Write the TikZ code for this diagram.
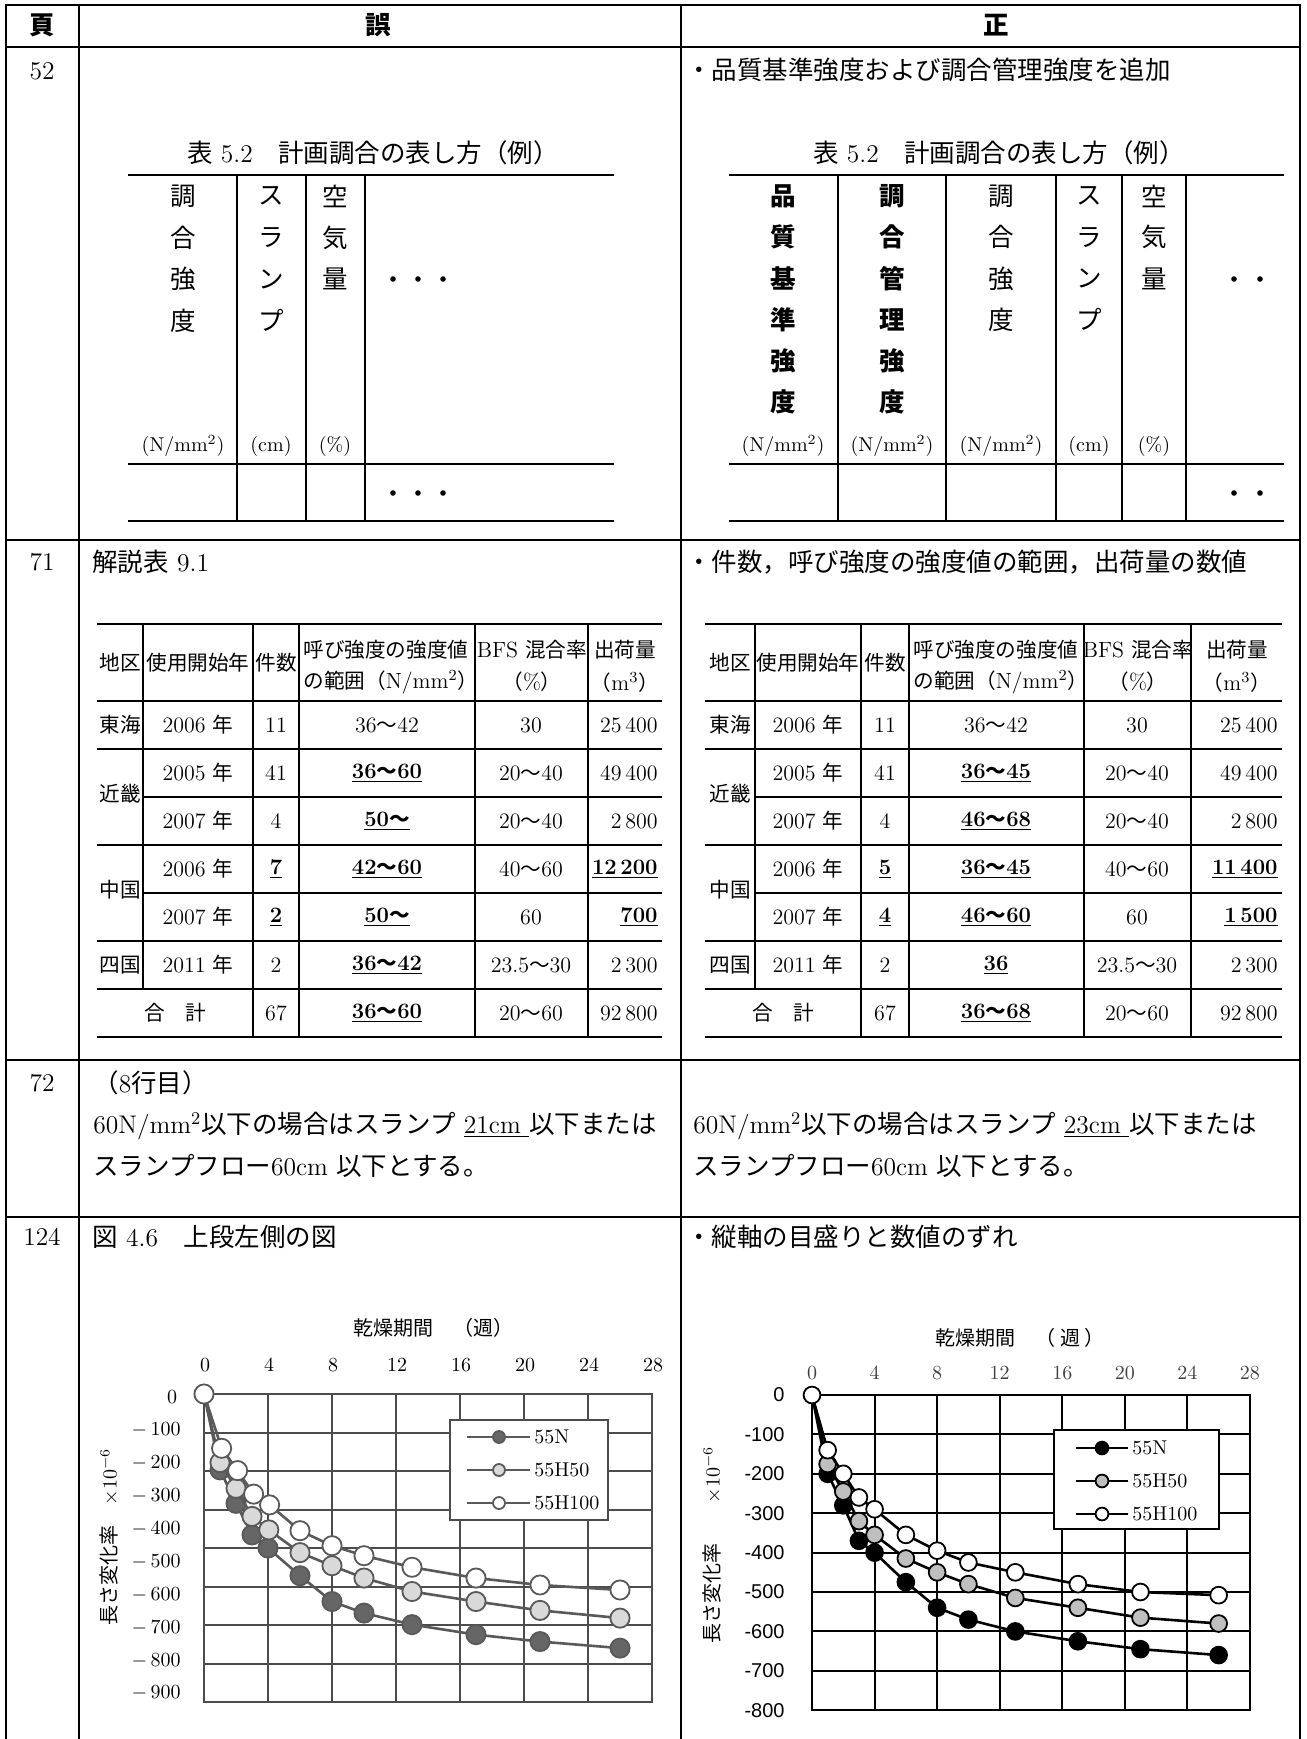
\documentclass[tikz,border=0pt]{standalone}
\usepackage{fontspec}
\newfontfamily\jp{Noto Sans CJK JP}
\newfontfamily\asans{Liberation Sans}
\usetikzlibrary{calc}
\newcommand\J[1]{{\jp #1}}
\newcommand\Jt[1]{{\jp\fontsize{10.3pt}{12pt}\selectfont #1}}
\newcommand\bu[1]{\underline{\bfseries #1}}
\newcommand\bodyf{\fontsize{12.75pt}{15pt}\selectfont}
\newcommand\tblf{\fontsize{11pt}{13pt}\selectfont}
\newcommand\smf{\fontsize{10pt}{12pt}\selectfont}
\definecolor{lgrid}{gray}{0.30}
\definecolor{lser}{gray}{0.35}
\definecolor{lfillN}{gray}{0.40}
\definecolor{lfillH}{gray}{0.85}
\definecolor{rfillH}{gray}{0.75}
\definecolor{xlab}{gray}{0.25}
\begin{document}
\begin{tikzpicture}[x=0.5pt,y=-0.5pt,line join=miter,
  frame/.style={line width=1.2pt},
  tl/.style={line width=1.1pt},
  txt/.style={inner sep=0pt,font=\bodyf},
  tt/.style={inner sep=0pt,font=\tblf},
  ut/.style={inner sep=0pt,font=\smf},
  lgridl/.style={draw=lgrid,line width=1pt},
  lserl/.style={draw=lser,line width=1.3pt},
  lmk/.style={draw=lser,line width=0.9pt},
  rgridl/.style={draw=black,line width=1pt},
  rserl/.style={draw=black,line width=1.3pt},
  rmk/.style={draw=black,line width=0.9pt}]
\useasboundingbox (0,0) rectangle (1306,1739);
% ---------------- frame
\draw[frame] (6,1739) -- (6,5) -- (1300,5) -- (1300,1739);
\draw[frame] (79,5) -- (79,1739);
\draw[frame] (681,5) -- (681,1739);
\foreach \yy in {47,540,1060,1217} \draw[frame] (6,\yy) -- (1300,\yy);
% header
\node[txt,font=\bodyf\jp\bfseries] (hpage) at (42,25) {頁};
\node[txt,font=\bodyf\jp\bfseries] (hwrong) at (378,25) {誤};
\node[txt,font=\bodyf\jp\bfseries] (hright) at (996,25) {正};
% page numbers
\node[txt] (p52) at (42,71) {52};
\node[txt] (p71) at (42,562) {71};
\node[txt] (p72) at (42,1083) {72};
\node[txt] (p124) at (42,1237) {124};
% ---------------- row 52
\node[txt,anchor=west] (t52r) at (686,70) {\J{・品質基準強度および調合管理強度を追加}};
\node[txt] (cap52l) at (373,153) {\J{表} 5.2\J{　計画調合の表し方（例）}};
\node[txt] (cap52r) at (999,153) {\J{表} 5.2\J{　計画調合の表し方（例）}};
% left table 52
\foreach \yy in {175,464,521} \draw[tl] (128,\yy) -- (614,\yy);
\foreach \xx in {237,306,365} \draw[tl] (\xx,175) -- (\xx,521);
\foreach \c [count=\i] in {調,合,強,度} \node[txt] (la\i) at (183,{196+41.5*(\i-1)}) {\J{\c}};
\foreach \c [count=\i] in {ス,ラ,ン,プ} \node[txt] (lb\i) at (271,{196+41.5*(\i-1)}) {\J{\c}};
\foreach \c [count=\i] in {空,気,量} \node[txt] (lc\i) at (335,{196+41.5*(\i-1)}) {\J{\c}};
\node[ut] (lu1) at (183,446) {(N/mm\textsuperscript{2})};
\node[ut] (lu2) at (271,446) {(cm)};
\node[ut] (lu3) at (335,446) {(\%)};
\foreach \xx in {393,418,443} {\fill (\xx,279) circle (1.4pt); \fill (\xx,493) circle (1.4pt);}
% right table 52
\foreach \yy in {175,464,521} \draw[tl] (729,\yy) -- (1284,\yy);
\foreach \xx in {838,946,1056,1122,1186} \draw[tl] (\xx,175) -- (\xx,521);
\foreach \c [count=\i] in {品,質,基,準,強,度} \node[txt,font=\bodyf\jp\bfseries] (ra\i) at (783,{196+41.2*(\i-1)}) {\c};
\foreach \c [count=\i] in {調,合,管,理,強,度} \node[txt,font=\bodyf\jp\bfseries] (rb\i) at (892,{196+41.2*(\i-1)}) {\c};
\foreach \c [count=\i] in {調,合,強,度} \node[txt] (rc\i) at (1001,{196+41.2*(\i-1)}) {\J{\c}};
\foreach \c [count=\i] in {ス,ラ,ン,プ} \node[txt] (rd\i) at (1089,{196+41.2*(\i-1)}) {\J{\c}};
\foreach \c [count=\i] in {空,気,量} \node[txt] (re\i) at (1154,{196+41.2*(\i-1)}) {\J{\c}};
\node[ut] (ru1) at (783,446) {(N/mm\textsuperscript{2})};
\node[ut] (ru2) at (892,446) {(N/mm\textsuperscript{2})};
\node[ut] (ru3) at (1001,446) {(N/mm\textsuperscript{2})};
\node[ut] (ru4) at (1089,446) {(cm)};
\node[ut] (ru5) at (1154,446) {(\%)};
\foreach \xx in {1234,1260} {\fill (\xx,279) circle (1.4pt); \fill (\xx,493) circle (1.4pt);}
% ---------------- row 71
\node[txt,anchor=west] (t71l) at (92,562) {\J{解説表} 9.1};
\node[txt,anchor=west] (t71r) at (686,562) {\J{・件数，呼び強度の強度値の範囲，出荷量の数値}};
% left table 71
\foreach \yy in {624,701,749,845,941,989,1037} \draw[tl] (97,\yy) -- (662,\yy);
\foreach \yy in {797,893} \draw[tl] (143,\yy) -- (662,\yy);
\draw[tl] (143,624) -- (143,989);
\foreach \xx in {253,299,475,588} \draw[tl] (\xx,624) -- (\xx,1037);
\node[tt] (lh0) at (120,663) {\Jt{地区}};
\node[tt] (lh1) at (198,663) {\Jt{使用開始年}};
\node[tt] (lh2) at (276,663) {\Jt{件数}};
\node[tt,anchor=west] (lh3a) at (303,650) {\Jt{呼び強度の強度値}};
\node[tt,anchor=west] (lh3b) at (303,682) {\Jt{の範囲（}N/mm\textsuperscript{2}\Jt{）}};
\node[tt] (lh4a) at (532,650) {BFS \Jt{混合率}};
\node[tt] (lh4b) at (532,682) {\Jt{（}\%\Jt{）}};
\node[tt] (lh5a) at (625,650) {\Jt{出荷量}};
\node[tt] (lh5b) at (625,682) {\Jt{（}m\textsuperscript{3}\Jt{）}};
\node[tt] (la0) at (120,725) {\Jt{東海}};
\node[tt] (lk0) at (120,794) {\Jt{近畿}};
\node[tt] (lc0) at (120,890) {\Jt{中国}};
\node[tt] (ls0) at (120,965) {\Jt{四国}};
\node[tt] (lt0) at (175,1013) {\Jt{合　計}};
\foreach \t [count=\i] in {2006,2005,2007,2006,2007,2011}
  \node[tt] (ly\i) at (198,{677+48*\i}) {\t\ \Jt{年}};
\node[tt] (ln1) at (276,725) {11};
\node[tt] (ln2) at (276,773) {41};
\node[tt] (ln3) at (276,821) {4};
\node[tt] (ln4) at (276,869) {\bu{7}};
\node[tt] (ln5) at (276,917) {\bu{2}};
\node[tt] (ln6) at (276,965) {2};
\node[tt] (ln7) at (276,1013) {67};
\node[tt] (lr1) at (387,725) {36\Jt{～}42};
\node[tt] (lr2) at (387,773) {\bu{36\Jt{～}60}};
\node[tt] (lr3) at (387,821) {\bu{50\Jt{～}}};
\node[tt] (lr4) at (387,869) {\bu{42\Jt{～}60}};
\node[tt] (lr5) at (387,917) {\bu{50\Jt{～}}};
\node[tt] (lr6) at (387,965) {\bu{36\Jt{～}42}};
\node[tt] (lr7) at (387,1013) {\bu{36\Jt{～}60}};
\node[tt] (lb1) at (531,725) {30};
\node[tt] (lb2) at (531,773) {20\Jt{～}40};
\node[tt] (lb3) at (531,821) {20\Jt{～}40};
\node[tt] (lb4) at (531,869) {40\Jt{～}60};
\node[tt] (lb5) at (531,917) {60};
\node[tt] (lb6) at (531,965) {23.5\Jt{～}30};
\node[tt] (lb7) at (531,1013) {20\Jt{～}60};
\node[tt,anchor=east] (lq1) at (658,725) {25\,400};
\node[tt,anchor=east] (lq2) at (658,773) {49\,400};
\node[tt,anchor=east] (lq3) at (658,821) {2\,800};
\node[tt,anchor=east] (lq4) at (658,869) {\bu{12\,200}};
\node[tt,anchor=east] (lq5) at (658,917) {\bu{700}};
\node[tt,anchor=east] (lq6) at (658,965) {2\,300};
\node[tt,anchor=east] (lq7) at (658,1013) {92\,800};
% right table 71
\foreach \yy in {624,701,749,845,941,989,1037} \draw[tl] (705,\yy) -- (1282,\yy);
\foreach \yy in {797,893} \draw[tl] (755,\yy) -- (1282,\yy);
\draw[tl] (755,624) -- (755,989);
\foreach \xx in {861,909,1084,1191} \draw[tl] (\xx,624) -- (\xx,1037);
\node[tt] (rh0) at (730,663) {\Jt{地区}};
\node[tt] (rh1) at (808,663) {\Jt{使用開始年}};
\node[tt] (rh2) at (885,663) {\Jt{件数}};
\node[tt,anchor=west] (rh3a) at (913,650) {\Jt{呼び強度の強度値}};
\node[tt,anchor=west] (rh3b) at (913,682) {\Jt{の範囲（}N/mm\textsuperscript{2}\Jt{）}};
\node[tt] (rh4a) at (1138,650) {BFS \Jt{混合率}};
\node[tt] (rh4b) at (1138,682) {\Jt{（}\%\Jt{）}};
\node[tt] (rh5a) at (1237,650) {\Jt{出荷量}};
\node[tt] (rh5b) at (1237,682) {\Jt{（}m\textsuperscript{3}\Jt{）}};
\node[tt] (ra0) at (730,725) {\Jt{東海}};
\node[tt] (rk0) at (730,794) {\Jt{近畿}};
\node[tt] (rc0) at (730,890) {\Jt{中国}};
\node[tt] (rs0) at (730,965) {\Jt{四国}};
\node[tt] (rt0) at (783,1013) {\Jt{合　計}};
\foreach \t [count=\i] in {2006,2005,2007,2006,2007,2011}
  \node[tt] (ry\i) at (808,{677+48*\i}) {\t\ \Jt{年}};
\node[tt] (rn1) at (885,725) {11};
\node[tt] (rn2) at (885,773) {41};
\node[tt] (rn3) at (885,821) {4};
\node[tt] (rn4) at (885,869) {\bu{5}};
\node[tt] (rn5) at (885,917) {\bu{4}};
\node[tt] (rn6) at (885,965) {2};
\node[tt] (rn7) at (885,1013) {67};
\node[tt] (rr1) at (996,725) {36\Jt{～}42};
\node[tt] (rr2) at (996,773) {\bu{36\Jt{～}45}};
\node[tt] (rr3) at (996,821) {\bu{46\Jt{～}68}};
\node[tt] (rr4) at (996,869) {\bu{36\Jt{～}45}};
\node[tt] (rr5) at (996,917) {\bu{46\Jt{～}60}};
\node[tt] (rr6) at (996,965) {\bu{36}};
\node[tt] (rr7) at (996,1013) {\bu{36\Jt{～}68}};
\node[tt] (rb1) at (1137,725) {30};
\node[tt] (rb2) at (1137,773) {20\Jt{～}40};
\node[tt] (rb3) at (1137,821) {20\Jt{～}40};
\node[tt] (rb4) at (1137,869) {40\Jt{～}60};
\node[tt] (rb5) at (1137,917) {60};
\node[tt] (rb6) at (1137,965) {23.5\Jt{～}30};
\node[tt] (rb7) at (1137,1013) {20\Jt{～}60};
\node[tt,anchor=east] (rq1) at (1278,725) {25\,400};
\node[tt,anchor=east] (rq2) at (1278,773) {49\,400};
\node[tt,anchor=east] (rq3) at (1278,821) {2\,800};
\node[tt,anchor=east] (rq4) at (1278,869) {\bu{11\,400}};
\node[tt,anchor=east] (rq5) at (1278,917) {\bu{1\,500}};
\node[tt,anchor=east] (rq6) at (1278,965) {2\,300};
\node[tt,anchor=east] (rq7) at (1278,1013) {92\,800};
% ---------------- row 72
\node[txt,anchor=west] (t72a) at (93,1083) {\J{（}8\J{行目）}};
\node[txt,anchor=west] (t72b) at (93,1126) {60N/mm\textsuperscript{2}\J{以下の場合はスランプ} \underline{21cm }\J{以下または}};
\node[txt,anchor=west] (t72c) at (93,1166) {\J{スランプフロー}60cm \J{以下とする。}};
\node[txt,anchor=west] (t72d) at (693,1126) {60N/mm\textsuperscript{2}\J{以下の場合はスランプ} \underline{23cm }\J{以下または}};
\node[txt,anchor=west] (t72e) at (693,1166) {\J{スランプフロー}60cm \J{以下とする。}};
% ---------------- row 124
\node[txt,anchor=west] (t124l) at (92,1237) {\J{図} 4.6\J{　上段左側の図}};
\node[txt,anchor=west] (t124r) at (686,1237) {\J{・縦軸の目盛りと数値のずれ}};
% ---------------- left chart
\node[ut] (lct) at (433,1328) {\J{乾燥期間　（週）}};
\foreach \w in {0,4,...,28} \node[ut] (lxl\w) at ({205+16*\w},1365) {\w};
\node[ut] (lyl0) at (172,1397) {0};
\foreach \k in {1,...,9} \node[ut,anchor=east] (lyl\k) at (181,{1397+32.9*\k}) {$-$\,\k00};
\node[ut,rotate=90] (lyt) at (109,1537) {\J{長さ変化率　}$\times$10\textsuperscript{$-6$}};
\begin{scope}[shift={(204,1394)},x=8pt,y=-19.25pt]
  \foreach \w in {4,8,...,24} \draw[lgridl] (\w,0) -- (\w,8);
  \foreach \u in {1,...,7} \draw[lgridl] (0,\u) -- (28,\u);
  \draw[lgridl,line width=1.2pt] (0,0) rectangle (28,8);
  % 55N
  \draw[lserl] plot coordinates {(0,0) (1,1.97) (2,2.84) (3,3.66) (4,4.0) (6,4.72) (8,5.39) (10,5.69) (13,5.99) (17,6.25) (21,6.43) (26,6.6)};
  \foreach \p in {(1,1.97),(2,2.84),(3,3.66),(4,4.0),(6,4.72),(8,5.39),(10,5.69),(13,5.99),(17,6.25),(21,6.43),(26,6.6)}
    \draw[lmk,fill=lfillN] \p circle (4.8pt);
  % 55H50
  \draw[lserl] plot coordinates {(0,0) (1,1.78) (2,2.45) (3,3.18) (4.05,3.53) (6,4.12) (8,4.46) (10,4.78) (13,5.13) (17,5.39) (21,5.62) (26,5.82)};
  \foreach \p in {(1,1.78),(2,2.45),(3,3.18),(4.05,3.53),(6,4.12),(8,4.46),(10,4.78),(13,5.13),(17,5.39),(21,5.62),(26,5.82)}
    \draw[lmk,fill=lfillH] \p circle (4.8pt);
  % 55H100
  \draw[lserl] plot coordinates {(0,0) (1.1,1.41) (2.1,1.99) (3.1,2.60) (4.1,2.88) (6,3.55) (8,3.94) (10,4.2) (13,4.5) (17,4.78) (21,4.96) (26,5.09)};
  \foreach \p in {(0,0),(1.1,1.41),(2.1,1.99),(3.1,2.60),(4.1,2.88),(6,3.55),(8,3.94),(10,4.2),(13,4.5),(17,4.78),(21,4.96),(26,5.09)}
    \draw[lmk,fill=white] \p circle (4.8pt);
\end{scope}
% left legend
\draw[lgridl,fill=white] (450,1420) rectangle (608,1520);
\foreach \yy/\f/\n in {1437/lfillN/55N,1470/lfillH/55H50,1503/white/55H100} {
  \draw[lserl] (467,\yy) -- (530,\yy);
  \draw[lmk,fill=\f] (499,\yy) circle (3pt);
  \node[ut,anchor=west] (ll\n) at (534,\yy) {\n};
}
% ---------------- right chart
\node[ut] (rct) at (1020,1338) {\J{乾燥期間　（ 週 ）}};
\foreach \w in {0,4,...,28} \node[ut,text=xlab] (rxl\w) at ({812+15.64*\w},1373) {\w};
\node[ut,anchor=east,font=\smf\asans] (ryl0) at (785,1395) {0};
\foreach \k in {1,...,8} \node[ut,anchor=east,font=\smf\asans] (ryl\k) at (785,{1395+39.4*\k}) {-\k00};
\node[ut,rotate=90] (ryt) at (712,1545) {\J{長さ変化率　　}$\times$10\textsuperscript{$-6$}};
\begin{scope}[shift={(812,1395)},x=7.82pt,y=0.197pt]
  \foreach \w in {4,8,...,24} \draw[rgridl] (\w,0) -- (\w,-800);
  \foreach \v in {-100,-200,...,-700} \draw[rgridl] (0,\v) -- (28,\v);
  \draw[rgridl,line width=1.2pt] (0,0) rectangle (28,-800);
  \draw[rserl] plot coordinates {(0,0) (1,-200) (2,-280) (3,-370) (4,-400) (6,-475) (8,-540) (10,-570) (13,-600) (17,-625) (21,-645) (26,-660)};
  \foreach \p in {(1,-200),(2,-280),(3,-370),(4,-400),(6,-475),(8,-540),(10,-570),(13,-600),(17,-625),(21,-645),(26,-660)}
    \draw[rmk,fill=black] \p circle (4.2pt);
  \draw[rserl] plot coordinates {(0,0) (1,-175) (2,-245) (3,-320) (4,-355) (6,-415) (8,-450) (10,-480) (13,-515) (17,-540) (21,-565) (26,-580)};
  \foreach \p in {(1,-175),(2,-245),(3,-320),(4,-355),(6,-415),(8,-450),(10,-480),(13,-515),(17,-540),(21,-565),(26,-580)}
    \draw[rmk,fill=rfillH] \p circle (4.2pt);
  \draw[rserl] plot coordinates {(0,0) (1,-140) (2,-200) (3,-260) (4,-290) (6,-355) (8,-395) (10,-425) (13,-450) (17,-480) (21,-500) (26,-508)};
  \foreach \p in {(0,0),(1,-140),(2,-200),(3,-260),(4,-290),(6,-355),(8,-395),(10,-425),(13,-450),(17,-480),(21,-500),(26,-508)}
    \draw[rmk,fill=white] \p circle (4.2pt);
\end{scope}
\draw[rgridl,fill=white] (1054,1430) rectangle (1219,1529);
\foreach \yy/\f/\n in {1448/black/55N,1481/rfillH/55H50,1514/white/55H100} {
  \draw[rserl] (1076,\yy) -- (1128,\yy);
  \draw[rmk,fill=\f] (1102,\yy) circle (3.2pt);
  \node[ut,anchor=west] (rl\n) at (1132,\yy) {\n};
}
\end{tikzpicture}
\end{document}
